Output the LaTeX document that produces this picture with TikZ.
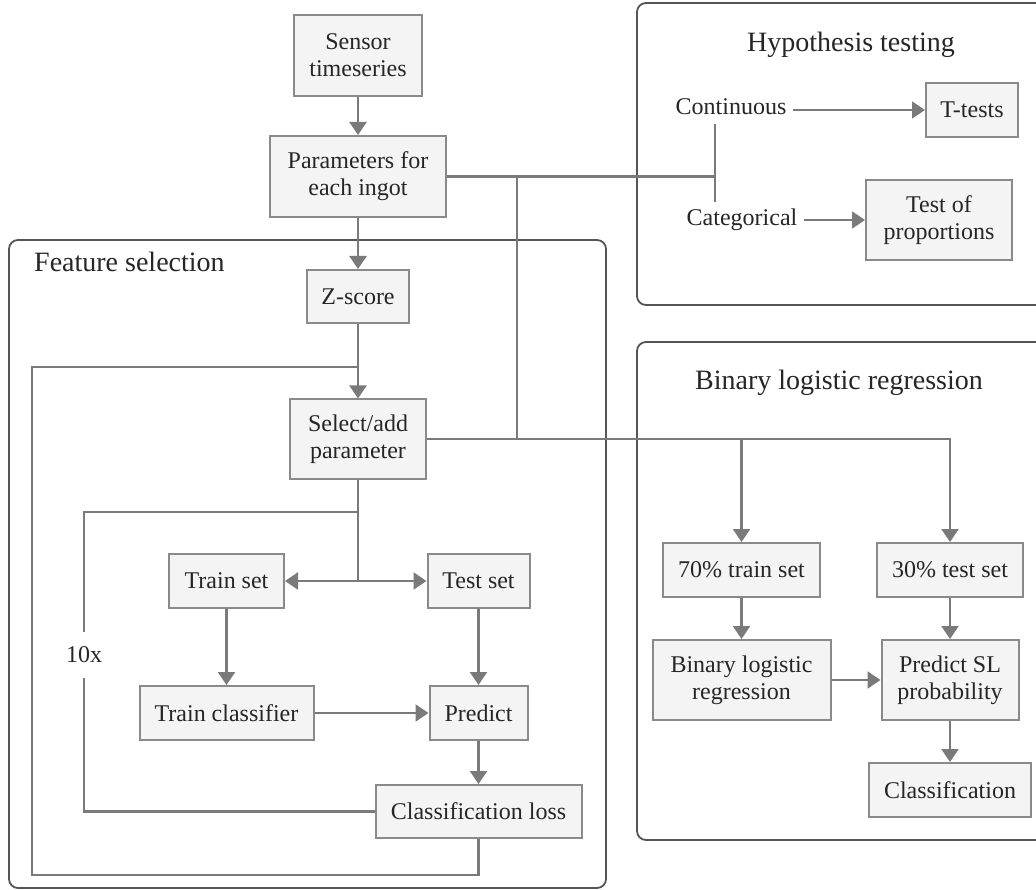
\documentclass[tikz,border=0pt]{standalone}
\usepackage{fontspec}
\setmainfont{Liberation Serif}
\usetikzlibrary{arrows.meta}
\definecolor{txt}{HTML}{262626}
\definecolor{ln}{HTML}{7A7A7A}
\definecolor{bx}{HTML}{8A8A8A}
\definecolor{bxfill}{HTML}{F4F4F4}
\definecolor{frm}{HTML}{555555}
\tikzset{
  stepbox/.style={draw=bx, line width=2pt, fill=bxfill, align=center, inner sep=0pt,
    text=txt, font=\fontsize{24}{27}\selectfont},
  lbl/.style={text=txt, inner sep=0pt, font=\fontsize{24}{27}\selectfont},
  ttl/.style={text=txt, inner sep=0pt, font=\fontsize{28}{32}\selectfont},
  conn/.style={draw=ln, line width=2.2pt},
  arr/.style={conn, -{Triangle[length=13pt,width=17pt]}},
  thin/.style={draw=ln, line width=1.6pt},
  thinarr/.style={thin, -{Triangle[length=13pt,width=17pt]}},
  frame/.style={draw=frm, line width=1.8pt, rounded corners=9pt},
}
\begin{document}
\begin{tikzpicture}[x=1pt,y=-1pt]
\useasboundingbox (0,0) rectangle (1036,890);
\fill[white] (0,0) rectangle (1036,890);
% frames
\draw[frame] (9,240) rectangle (606,888);
\draw[frame] (1040,3) -- (637,3) -- (637,305) -- (1040,305);
\draw[frame] (1040,342) -- (637,342) -- (637,840) -- (1040,840);
% titles
\node[ttl, anchor=west] (tfs) at (34,262) {Feature selection};
\node[ttl] (tht) at (851,45) {Hypothesis testing};
\node[ttl] (tbl) at (839,383) {Binary logistic regression};
% boxes
\node[stepbox, minimum width=128pt, minimum height=81pt] (sensor) at (358,55.5) {Sensor\\timeseries};
\node[stepbox, minimum width=176pt, minimum height=81pt] (params) at (358,176.5) {Parameters for\\each ingot};
\node[stepbox, minimum width=102pt, minimum height=53pt] (zscore) at (358,296.5) {Z-score};
\node[stepbox, minimum width=136pt, minimum height=79pt] (select) at (358,439) {Select/add\\parameter};
\node[stepbox, minimum width=115pt, minimum height=54pt] (train) at (226.5,581) {Train set};
\node[stepbox, minimum width=102pt, minimum height=54pt] (test) at (478.5,581) {Test set};
\node[stepbox, minimum width=174pt, minimum height=54pt] (trainc) at (226.5,713) {Train classifier};
\node[stepbox, minimum width=98pt, minimum height=54pt] (predict) at (478.5,713) {Predict};
\node[stepbox, minimum width=206pt, minimum height=53pt] (closs) at (478.5,811.5) {Classification loss};
\node[stepbox, minimum width=92pt, minimum height=54pt] (ttests) at (972,110) {T-tests};
\node[stepbox, minimum width=146pt, minimum height=80pt] (tprop) at (939,220) {Test of\\proportions};
\node[stepbox, minimum width=157pt, minimum height=54pt] (tr70) at (741.5,570) {70\% train set};
\node[stepbox, minimum width=146pt, minimum height=54pt] (te30) at (950,570) {30\% test set};
\node[stepbox, minimum width=178pt, minimum height=80pt] (blr) at (741.5,680) {Binary logistic\\regression};
\node[stepbox, minimum width=137pt, minimum height=80pt] (psl) at (950,680) {Predict SL\\probability};
\node[stepbox, minimum width=162pt, minimum height=54pt] (classif) at (950,790) {Classification};
% labels
\node[lbl] (cont) at (731,107) {Continuous};
\node[lbl] (cat) at (742,220) {Categorical};
\node[lbl, minimum height=46pt] (tenx) at (84,655) {10x};
% coordinates
\coordinate (hj) at (715,176.5);
\coordinate (hjt) at (715,124);
\coordinate (hjb) at (715,202);
\coordinate (j1) at (517,176.5);
\coordinate (lj) at (358,367);
\coordinate (il) at (358,512);
\coordinate (sj) at (358,581);
\coordinate (ob) at (32,875);
% connectors
\draw[arr] (sensor) -- (params);
\draw[arr] (params) -- (zscore);
\draw[conn] (params.east) -- (hj);
\draw[thin] (hjt) -- (hjb);
\draw[thinarr] (cont.east) ++(6,3) -- (ttests.west |- 0,110);
\draw[thinarr] (cat.east) ++(6,0) -- (tprop.west);
\draw[conn] (j1) -- (j1 |- select.east);
\draw[arr] (select.east) -| (tr70.north);
\draw[arr] (select.east) -| (te30.north);
\draw[arr] (zscore) -- (select);
\draw[conn] (select.south) -- (sj);
\draw[arr] (sj) -- (train.east);
\draw[arr] (sj) -- (test.west);
\draw[conn] (il) -| (tenx.north);
\draw[conn] (tenx.south) |- (closs.west);
\draw[arr] (train) -- (trainc);
\draw[arr] (test) -- (predict);
\draw[arr] (trainc.east) -- (predict.west);
\draw[arr] (predict) -- (closs);
\draw[conn] (closs.south) |- (ob) |- (lj);
\draw[arr] (tr70) -- (blr);
\draw[arr] (te30) -- (psl);
\draw[arr] (blr.east) -- (psl.west);
\draw[arr] (psl) -- (classif);
\end{tikzpicture}
\end{document}
